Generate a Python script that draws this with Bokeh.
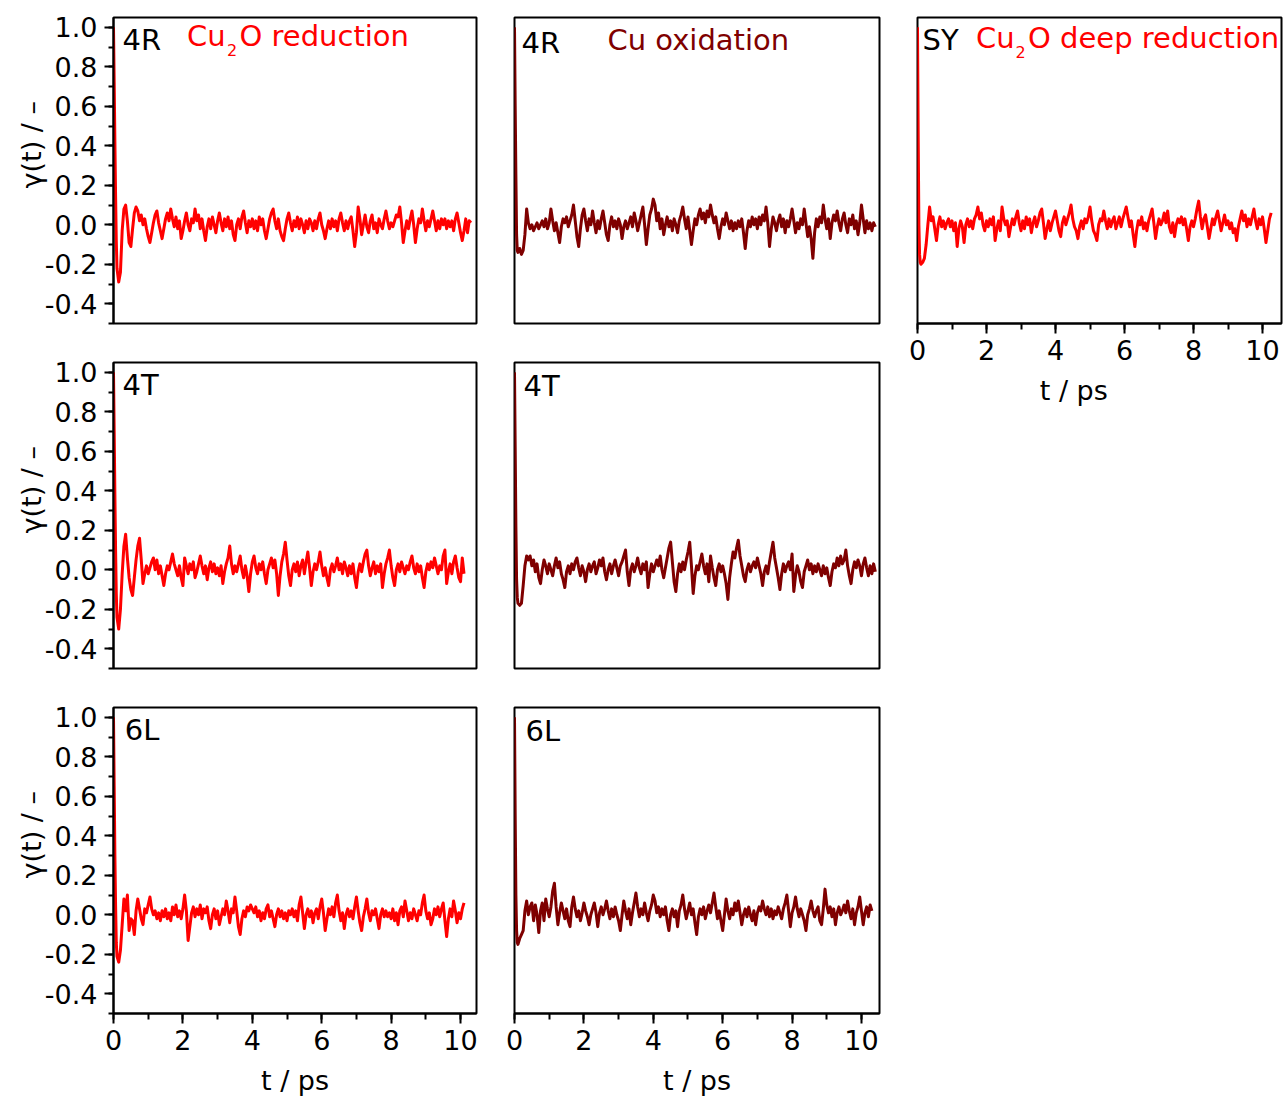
from bokeh.plotting import figure
from bokeh.layouts import row, column
from bokeh.models import Label, Range1d, SingleIntervalTicker, PrintfTickFormatter
from bokeh.embed import file_html
from bokeh.resources import INLINE

# ---------------------------------------------------------------------------
# Velocity autocorrelation gamma(t) vs time t (ps)
# first five samples every 0.02 ps, then one sample every 0.05 ps from 0.10 ps
# ---------------------------------------------------------------------------
T_HEAD = [0.0, 0.02, 0.04, 0.06, 0.08]

# 4R, Cu2O reduction
r4_red_head = [1.0, 0.72, 0.42, 0.15, -0.08]
r4_red_tail = [
    -0.22, -0.29, -0.24, -0.03, 0.08, 0.10, 0.02, -0.09, -0.11, -0.02, 0.06, 0.09, 0.07, 0.02, 0.05, 0.00, 0.03, -0.02, -0.06, -0.09,
    -0.04, 0.01, 0.05, 0.07, 0.01, -0.03, -0.07, -0.02, 0.03, 0.06, 0.02, 0.08, 0.03, -0.01, 0.04, -0.02, 0.02, -0.07, -0.03, 0.02,
    0.06, 0.00, -0.03, 0.03, 0.01, 0.08, 0.02, 0.05, -0.02, 0.03, -0.03, -0.08, -0.01, 0.03, -0.02, 0.04, 0.00, -0.04, 0.02, 0.06,
    0.01, -0.03, 0.03, -0.01, 0.04, -0.02, 0.02, -0.05, -0.08, 0.00, 0.03, -0.02, 0.04, 0.07, 0.01, -0.04, 0.02, -0.01, 0.03, -0.02,
    0.02, -0.03, 0.04, 0.00, 0.03, -0.03, -0.07, -0.02, 0.03, 0.06, 0.08, 0.02, -0.02, 0.03, -0.03, -0.06, -0.08, -0.02, 0.03, 0.06,
    0.01, -0.03, 0.02, -0.01, 0.04, -0.02, 0.03, 0.00, -0.04, 0.02, -0.02, 0.03, 0.01, -0.03, 0.02, -0.02, 0.03, 0.06, 0.00, -0.03,
    -0.07, -0.02, 0.02, -0.02, 0.03, -0.01, 0.02, -0.03, 0.03, 0.06, 0.01, -0.03, 0.02, -0.02, 0.02, 0.04, -0.03, -0.11, -0.04, 0.09,
    0.03, -0.05, 0.00, 0.05, -0.01, -0.04, 0.02, 0.05, -0.02, 0.01, -0.04, 0.03, 0.00, -0.02, 0.03, 0.07, 0.02, -0.02, 0.01, -0.01,
    0.02, 0.05, 0.04, 0.09, 0.01, -0.09, -0.03, 0.02, -0.02, 0.03, 0.07, 0.00, -0.09, -0.02, 0.03, 0.01, 0.08, 0.02, -0.03, 0.02,
    -0.01, 0.03, 0.07, 0.02, -0.03, 0.02, -0.02, 0.03, 0.00, 0.03, -0.02, 0.02, -0.01, 0.02, -0.03, 0.03, 0.06, 0.01, -0.04, -0.08,
    -0.03, 0.03, -0.04, 0.02, 0.01,
]

# 4R, Cu oxidation
r4_ox_head = [1.0, 0.60, 0.25, -0.05, -0.13]
r4_ox_tail = [
    -0.14, -0.12, -0.15, -0.13, -0.05, 0.08, 0.01, -0.02, 0.00, -0.03, -0.01, 0.01, -0.02, 0.00, 0.02, -0.01, 0.03, -0.02, 0.01, 0.08,
    0.02, -0.03, 0.01, -0.04, -0.09, -0.01, 0.03, 0.01, 0.04, -0.01, 0.02, 0.05, 0.10, 0.02, -0.06, -0.11, -0.02, 0.05, 0.08, 0.02,
    -0.03, 0.03, 0.00, 0.07, 0.01, -0.04, 0.02, -0.02, 0.03, 0.07, 0.01, -0.05, -0.08, 0.00, 0.04, -0.01, 0.02, -0.02, 0.03, 0.00,
    -0.07, -0.01, 0.02, -0.02, 0.01, 0.04, -0.01, 0.06, 0.02, -0.03, 0.01, 0.05, 0.09, 0.00, -0.10, -0.02, 0.05, 0.08, 0.13, 0.10,
    0.02, 0.06, -0.02, 0.03, -0.05, 0.00, 0.04, -0.01, 0.02, -0.03, 0.03, 0.00, -0.04, 0.02, 0.05, 0.09, 0.03, -0.02, 0.04, -0.03,
    -0.10, -0.03, 0.03, 0.00, 0.05, 0.08, 0.03, 0.06, 0.01, 0.07, 0.04, 0.10, 0.05, 0.01, 0.04, -0.02, -0.07, -0.01, 0.03, 0.00,
    0.06, 0.02, -0.02, 0.02, -0.03, 0.01, -0.02, 0.02, -0.01, 0.03, -0.04, -0.12, -0.03, 0.02, -0.01, 0.04, 0.00, 0.03, -0.02, 0.04,
    0.00, 0.05, 0.02, 0.09, 0.01, -0.11, -0.02, 0.04, 0.01, -0.03, 0.02, 0.05, -0.01, 0.03, -0.04, 0.02, -0.01, 0.03, 0.08, 0.02,
    -0.04, 0.01, -0.02, 0.03, 0.00, 0.08, 0.01, -0.06, -0.01, -0.07, -0.17, -0.04, 0.03, -0.01, 0.04, 0.01, 0.10, 0.03, -0.02, 0.03,
    -0.07, 0.01, 0.05, 0.02, 0.07, 0.01, -0.03, 0.03, 0.06, 0.00, -0.04, 0.03, 0.00, 0.05, -0.02, 0.02, -0.05, 0.01, 0.10, 0.03,
    -0.04, 0.02, -0.02, 0.01, -0.03, 0.01, -0.01,
]

# SY, Cu2O deep reduction
sy_red_head = [1.0, 0.45, 0.00, -0.15, -0.19]
sy_red_tail = [
    -0.20, -0.19, -0.17, -0.10, 0.00, 0.09, 0.02, 0.04, -0.02, -0.08, 0.00, 0.04, -0.01, 0.02, -0.02, 0.01, 0.03, -0.01, 0.02, -0.03,
    0.01, -0.11, -0.02, 0.02, -0.01, -0.09, 0.00, 0.03, -0.01, 0.02, -0.02, 0.03, 0.05, 0.09, 0.03, 0.06, 0.00, -0.03, 0.02, -0.01,
    0.03, 0.00, 0.04, -0.08, -0.02, 0.02, -0.03, 0.09, 0.03, 0.00, 0.02, -0.06, -0.01, 0.03, 0.00, 0.04, 0.07, 0.01, -0.03, 0.02,
    -0.02, 0.04, 0.00, 0.03, -0.04, 0.01, 0.04, -0.01, 0.02, 0.06, 0.08, 0.01, -0.07, -0.02, 0.02, -0.03, 0.01, 0.04, 0.07, 0.02,
    -0.03, -0.06, 0.01, 0.04, 0.00, 0.03, 0.06, 0.10, 0.03, -0.01, -0.03, -0.07, -0.01, 0.02, -0.02, 0.03, 0.01, 0.04, 0.09, 0.02,
    -0.03, -0.05, -0.08, 0.00, 0.03, 0.02, 0.07, 0.02, -0.02, 0.03, -0.01, 0.02, 0.04, -0.02, 0.01, 0.04, -0.01, 0.03, 0.06, 0.09,
    0.04, -0.01, 0.02, -0.05, -0.11, -0.03, 0.02, 0.00, 0.04, -0.02, 0.01, -0.03, 0.02, 0.05, 0.08, 0.01, -0.07, -0.01, 0.03, 0.00,
    0.02, 0.06, 0.01, 0.07, -0.01, -0.04, 0.01, -0.06, 0.00, 0.03, 0.01, 0.04, 0.00, 0.03, -0.02, -0.08, -0.01, 0.02, -0.01, 0.03,
    0.08, 0.12, 0.04, -0.02, 0.03, 0.05, -0.01, -0.07, -0.02, 0.03, 0.00, 0.04, 0.07, 0.02, -0.03, 0.01, 0.05, 0.00, 0.02, -0.02,
    0.01, -0.04, -0.02, -0.08, -0.01, 0.03, 0.07, 0.02, 0.05, -0.01, 0.03, 0.00, 0.04, 0.08, 0.02, -0.02, 0.03, 0.00, 0.04, -0.02,
    -0.09, -0.03, 0.03, 0.06,
]

# 4T, Cu2O reduction
t4_red_head = [1.0, 0.70, 0.38, 0.10, -0.12]
t4_red_tail = [
    -0.24, -0.30, -0.20, -0.02, 0.12, 0.18, 0.06, -0.04, -0.10, -0.13, -0.04, 0.05, 0.12, 0.16, 0.05, -0.07, -0.02, 0.02, -0.02, 0.01,
    0.04, 0.06, 0.00, 0.05, -0.02, 0.02, -0.03, -0.08, -0.02, 0.02, 0.00, 0.04, 0.08, 0.03, 0.00, -0.03, 0.02, -0.04, -0.08, 0.06,
    0.02, -0.02, 0.03, 0.00, 0.04, -0.04, -0.01, 0.03, 0.07, 0.02, -0.02, 0.02, -0.05, 0.01, 0.04, -0.01, 0.03, -0.02, 0.01, -0.03,
    0.02, -0.07, -0.01, 0.03, 0.06, 0.12, 0.03, -0.02, 0.02, -0.01, 0.03, 0.07, 0.00, -0.04, 0.02, -0.03, -0.11, -0.02, 0.04, 0.07,
    0.01, -0.02, 0.03, 0.00, 0.04, -0.02, -0.07, 0.00, 0.03, 0.06, 0.01, 0.05, -0.02, -0.13, -0.03, 0.04, 0.08, 0.14, 0.05, -0.03,
    -0.08, 0.00, 0.03, -0.01, 0.04, -0.03, 0.02, 0.05, -0.02, 0.04, 0.09, 0.01, -0.08, -0.01, 0.03, 0.00, 0.04, 0.09, 0.02, -0.03,
    0.01, -0.04, -0.08, 0.00, 0.03, -0.01, 0.02, 0.06, 0.00, 0.03, -0.02, 0.04, 0.01, -0.03, 0.02, -0.02, 0.03, -0.04, -0.09, -0.01,
    0.03, -0.01, 0.04, 0.08, 0.10, 0.02, -0.03, 0.01, 0.04, -0.02, 0.02, -0.01, 0.03, -0.09, -0.02, 0.03, 0.06, 0.10, 0.02, -0.04,
    -0.08, 0.00, 0.03, -0.01, 0.04, 0.01, -0.02, 0.02, 0.00, 0.04, 0.07, 0.01, -0.02, 0.03, -0.01, 0.02, -0.04, -0.09, -0.01, 0.03,
    0.00, 0.04, 0.01, 0.06, 0.02, -0.02, 0.02, 0.00, 0.07, 0.10, -0.07, -0.01, 0.03, -0.02, 0.04, 0.07, 0.01, -0.04, -0.06, 0.06,
    -0.02,
]

# 4T, Cu oxidation
t4_ox_head = [1.0, 0.62, 0.22, -0.05, -0.14]
t4_ox_tail = [
    -0.17, -0.18, -0.17, -0.08, 0.02, 0.07, 0.05, 0.07, 0.02, 0.05, -0.01, 0.03, -0.04, -0.07, 0.00, 0.05, 0.02, -0.02, 0.03, 0.00,
    -0.03, 0.02, 0.06, 0.01, 0.04, -0.02, -0.05, -0.09, -0.01, 0.02, -0.02, 0.03, 0.00, 0.04, 0.06, 0.01, -0.03, 0.02, -0.01, -0.06,
    0.00, 0.03, -0.01, 0.02, 0.04, -0.02, 0.01, 0.05, 0.02, 0.06, -0.01, -0.05, 0.00, 0.03, -0.02, 0.02, 0.05, 0.01, -0.03, 0.02,
    0.04, 0.07, 0.10, -0.01, -0.08, 0.00, 0.03, -0.01, 0.02, 0.06, 0.01, -0.02, 0.03, 0.00, 0.04, -0.09, -0.02, 0.03, -0.01, 0.02,
    0.05, 0.02, 0.07, 0.00, -0.04, 0.01, 0.06, 0.11, 0.14, 0.04, -0.06, -0.11, -0.02, 0.03, -0.01, 0.04, 0.00, 0.05, 0.09, 0.14,
    0.02, -0.12, -0.03, 0.02, 0.00, 0.04, 0.08, 0.02, -0.02, 0.03, -0.06, 0.07, 0.01, -0.04, -0.08, 0.00, 0.03, -0.01, 0.02, -0.02,
    -0.07, -0.15, -0.04, 0.03, 0.09, 0.06, 0.11, 0.15, 0.07, 0.02, -0.03, -0.06, 0.00, 0.03, -0.01, 0.02, 0.04, 0.01, 0.06, 0.02,
    -0.02, -0.08, -0.01, 0.02, -0.02, 0.04, 0.09, 0.14, 0.06, 0.01, -0.04, -0.10, -0.02, 0.03, -0.01, 0.02, 0.04, 0.00, 0.08, -0.11,
    -0.03, 0.02, -0.01, -0.06, -0.09, -0.01, 0.02, 0.05, 0.00, 0.03, -0.02, 0.02, -0.01, 0.03, 0.00, -0.03, 0.02, -0.02, 0.01, -0.04,
    -0.08, -0.01, 0.03, 0.01, 0.06, 0.02, 0.07, 0.03, 0.05, 0.10, 0.02, -0.03, -0.07, 0.00, 0.04, 0.01, 0.05, 0.02, -0.03, 0.03,
    0.06, 0.01, -0.03, 0.02, -0.02, 0.03, -0.01,
]

# 6L, Cu2O reduction
l6_red_head = [1.0, 0.65, 0.30, 0.05, -0.14]
l6_red_tail = [
    -0.21, -0.24, -0.18, -0.05, 0.08, 0.02, 0.10, -0.08, -0.02, -0.03, -0.10, 0.02, 0.08, 0.03, -0.02, -0.05, 0.03, 0.01, 0.05, 0.09,
    0.03, 0.00, 0.02, -0.02, 0.01, -0.03, 0.02, -0.01, 0.03, -0.02, 0.01, -0.03, 0.04, 0.00, 0.05, -0.01, 0.02, -0.02, 0.03, 0.10,
    0.02, -0.13, -0.06, 0.01, 0.04, -0.01, 0.03, 0.00, 0.05, -0.02, 0.03, 0.01, 0.04, -0.03, -0.07, 0.00, 0.03, -0.02, 0.02, -0.05,
    -0.01, 0.03, 0.00, 0.07, 0.02, -0.04, 0.03, 0.01, 0.09, 0.02, -0.06, -0.10, -0.02, 0.02, -0.01, 0.04, 0.02, 0.05, 0.03, 0.01,
    0.04, -0.01, 0.02, -0.03, 0.01, -0.02, 0.03, 0.05, -0.01, 0.02, -0.02, -0.06, 0.00, 0.03, -0.01, 0.02, -0.02, 0.01, -0.03, 0.02,
    0.00, 0.03, -0.01, 0.02, -0.03, 0.05, 0.09, 0.01, -0.07, 0.00, 0.03, -0.01, 0.02, -0.04, 0.01, 0.03, -0.02, 0.04, 0.08, 0.01,
    -0.08, -0.02, 0.03, 0.00, 0.04, -0.01, 0.06, 0.10, 0.02, -0.03, 0.01, -0.07, 0.00, 0.03, -0.01, 0.02, -0.02, 0.04, 0.09, 0.02,
    -0.04, -0.08, -0.01, 0.03, 0.08, 0.01, -0.03, 0.02, 0.00, 0.03, -0.02, -0.07, 0.00, 0.03, -0.01, 0.02, -0.01, 0.01, -0.02, 0.03,
    -0.03, 0.01, -0.05, 0.02, 0.04, -0.01, 0.07, 0.02, -0.03, 0.01, -0.02, 0.03, 0.00, -0.03, 0.02, 0.00, 0.06, 0.10, 0.02, -0.02,
    0.01, -0.05, -0.02, 0.03, 0.00, 0.04, -0.01, 0.03, 0.06, -0.03, -0.11, -0.02, 0.03, -0.01, 0.07, 0.02, -0.04, 0.01, -0.02, 0.03,
    0.06,
]

# 6L, Cu oxidation
l6_ox_head = [1.0, 0.50, 0.10, -0.08, -0.14]
l6_ox_tail = [
    -0.15, -0.12, -0.10, -0.08, 0.02, 0.07, 0.00, 0.04, 0.06, -0.03, 0.05, 0.00, -0.09, 0.02, 0.06, -0.03, 0.08, 0.03, -0.01, 0.04,
    0.12, 0.16, 0.04, -0.05, 0.01, 0.06, 0.02, -0.02, 0.03, -0.03, -0.06, 0.04, 0.09, 0.03, -0.01, 0.02, -0.03, 0.01, 0.06, 0.02,
    -0.01, -0.05, 0.00, 0.03, 0.06, 0.01, -0.06, 0.01, 0.04, 0.00, 0.03, 0.07, 0.02, -0.02, 0.03, -0.01, 0.04, 0.00, -0.03, -0.08,
    0.00, 0.07, 0.02, -0.02, 0.03, -0.05, 0.01, 0.06, 0.11, 0.04, -0.01, 0.03, 0.00, 0.06, 0.01, -0.03, 0.02, 0.05, 0.10, 0.07,
    0.01, 0.04, -0.01, 0.03, 0.00, 0.04, -0.03, -0.08, 0.00, 0.03, -0.01, 0.02, -0.06, 0.02, 0.05, 0.10, 0.03, -0.02, 0.02, 0.06,
    0.00, 0.03, -0.04, -0.10, -0.01, 0.03, 0.00, 0.04, -0.02, 0.02, 0.05, 0.01, 0.06, 0.11, 0.04, -0.02, 0.02, -0.03, -0.08, 0.00,
    0.08, 0.02, -0.02, 0.03, 0.00, 0.06, 0.02, 0.07, 0.01, -0.05, 0.00, 0.03, -0.01, 0.04, 0.00, -0.03, 0.02, -0.05, 0.01, 0.04,
    0.02, 0.07, 0.03, 0.00, 0.04, -0.01, 0.03, -0.02, 0.02, 0.00, 0.04, 0.01, -0.02, 0.03, 0.06, 0.10, 0.02, -0.06, 0.01, 0.04,
    0.09, 0.03, -0.01, 0.03, 0.00, -0.03, -0.08, 0.00, 0.03, 0.07, 0.02, -0.01, 0.02, 0.04, -0.03, -0.05, 0.03, 0.13, 0.05, 0.01,
    0.04, -0.01, 0.03, -0.05, 0.01, 0.04, 0.00, 0.02, 0.05, 0.01, 0.07, 0.02, -0.02, 0.03, -0.05, 0.01, 0.04, 0.09, 0.02, -0.05,
    0.01, 0.04, -0.01, 0.05, 0.02,
]

RED = "#ff0000"
DARK_RED = "#7f0000"
FONT = "DejaVu Sans"

Y_START, Y_END = -0.5, 1.05
FRAME_H = 306
NBSP = "\u00a0"

# axis titles; the padding keeps the visible words off-centre the way the panels set them
Y_TITLE = NBSP * 6 + "γ(t) / –"
X_TITLE = "t / ps"


def times(tail):
    return T_HEAD + [round(0.10 + 0.05 * i, 2) for i in range(len(tail))]


def make_panel(frame_w, x_end, left, right, top, bottom, show_y, show_x):
    p = figure(
        width=left + frame_w + right,
        height=top + FRAME_H + bottom,
        min_border_left=left, min_border_right=right,
        min_border_top=top, min_border_bottom=bottom,
        x_range=Range1d(0, x_end), y_range=Range1d(Y_START, Y_END),
        x_axis_location="below" if show_x else None,
        y_axis_location="left" if show_y else None,
        output_backend="svg", toolbar_location=None,
        background_fill_color="white", border_fill_color="white",
    )
    p.grid.visible = False
    p.outline_line_color = "black"
    p.outline_line_width = 2
    p.outline_line_alpha = 1.0
    p._frame_w = frame_w
    p._x_end = x_end
    if show_y:
        ax = p.yaxis[0]
        ax.ticker = SingleIntervalTicker(interval=0.2, num_minor_ticks=2)
        ax.formatter = PrintfTickFormatter(format="%.1f")
        ax.major_tick_out, ax.major_tick_in = 9, 0
        ax.minor_tick_out, ax.minor_tick_in = 5, 0
        ax.major_label_standoff = 7
        ax.axis_label = Y_TITLE
        ax.axis_label_standoff = -5
    if show_x:
        ax = p.xaxis[0]
        ax.ticker = SingleIntervalTicker(interval=2, num_minor_ticks=2)
        ax.formatter = PrintfTickFormatter(format="%d")
        ax.major_tick_out, ax.major_tick_in = 10, 0
        ax.minor_tick_out, ax.minor_tick_in = 6, 0
        ax.major_label_standoff = 6
        ax.axis_label = X_TITLE
        ax.axis_label_standoff = 12
    for ax in p.axis:
        ax.axis_line_color = "black"
        ax.axis_line_width = 2
        ax.major_tick_line_color = "black"
        ax.major_tick_line_width = 2
        ax.minor_tick_line_color = "black"
        ax.minor_tick_line_width = 2
        ax.major_label_text_font = FONT
        ax.major_label_text_font_size = "27px"
        ax.major_label_text_color = "black"
        ax.axis_label_text_font = FONT
        ax.axis_label_text_font_size = "27px"
        ax.axis_label_text_font_style = "normal"
        ax.axis_label_text_color = "black"
    return p


def put(p, dx, dy, text, size="29px", color="black"):
    """Place text at a pixel offset (dx right, dy down) from the frame's top-left corner."""
    x = dx * p._x_end / p._frame_w
    y = Y_END - dy * (Y_END - Y_START) / FRAME_H
    p.add_layout(Label(
        x=x, y=y, text=text, text_font=FONT, text_font_size=size,
        text_color=color, text_align="left", text_baseline="alphabetic",
    ))


# column widths: 113 | 363 | 19  ||  19 | 365 | 19  ||  19 | 364 | 5
p00 = make_panel(363, 10.46, 113, 19, 17, 20, True, False)
p10 = make_panel(363, 10.46, 113, 19, 19, 20, True, False)
p20 = make_panel(363, 10.46, 113, 19, 19, 86, True, True)
p01 = make_panel(365, 10.52, 19, 19, 17, 20, False, False)
p11 = make_panel(365, 10.52, 19, 19, 19, 20, False, False)
p21 = make_panel(365, 10.52, 19, 19, 19, 86, False, True)
p02 = make_panel(364, 10.55, 19, 5, 17, 86, False, True)
p02.xaxis[0].axis_label = X_TITLE + NBSP * 6

curves = [
    (p00, r4_red_head + r4_red_tail, RED),
    (p01, r4_ox_head + r4_ox_tail, DARK_RED),
    (p02, sy_red_head + sy_red_tail, RED),
    (p10, t4_red_head + t4_red_tail, RED),
    (p11, t4_ox_head + t4_ox_tail, DARK_RED),
    (p20, l6_red_head + l6_red_tail, RED),
    (p21, l6_ox_head + l6_ox_tail, DARK_RED),
]
for p, ys, col in curves:
    ts = times(ys[len(T_HEAD):])
    p.line(ts, ys, line_color=col, line_width=3, line_join="round")

# panel tags and process names
put(p00, 9, 22, "4R")
put(p00, 73.5, 18.5, "Cu", color=RED)
put(p00, 113.5, 32, "2", size="16px", color=RED)
put(p00, 126, 18.5, "O reduction", color=RED)

put(p01, 7, 25, "4R")
put(p01, 93, 22, "Cu oxidation", color=DARK_RED)

put(p02, 5, 22, "SY")
put(p02, 58.5, 20, "Cu", color=RED)
put(p02, 98, 34, "2", size="16px", color=RED)
put(p02, 110.5, 20, "O deep reduction", color=RED)

put(p10, 9, 22, "4T")
put(p11, 9, 23.5, "4T")
put(p20, 11.3, 22, "6L")
put(p21, 11, 23.5, "6L")

layout = row(
    column(p00, p10, p20),
    column(p01, p11, p21),
    column(p02),
)

open("out.html", "w").write(file_html(layout, INLINE))
